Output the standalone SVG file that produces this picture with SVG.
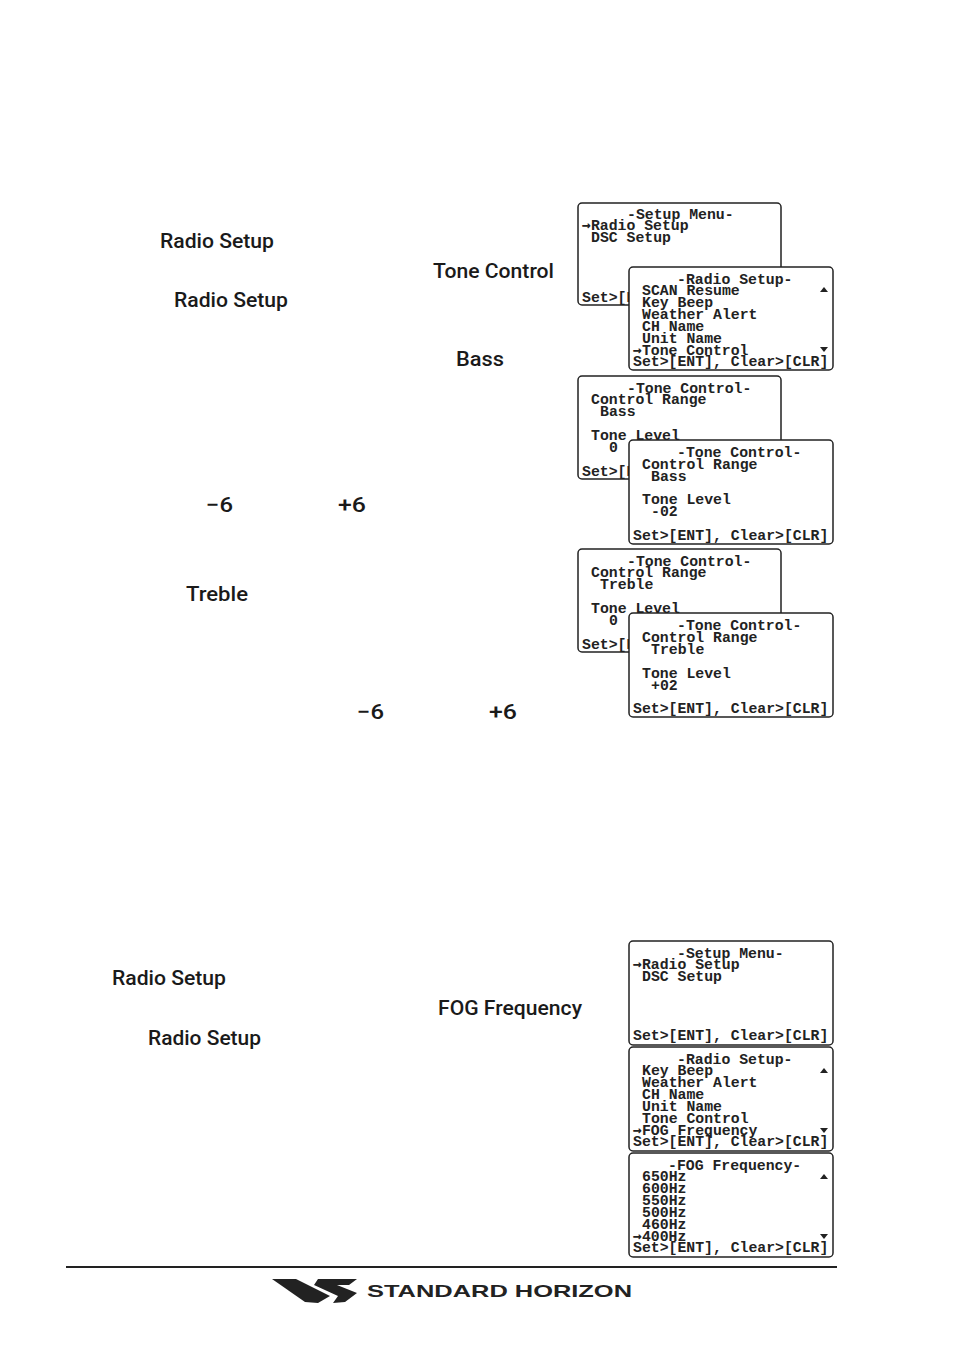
<svg xmlns="http://www.w3.org/2000/svg" width="954" height="1350" viewBox="0 0 954 1350">
<style>
.bg{fill:#fff}
.box{fill:#fff;stroke:#222;stroke-width:1.5}
.m{font-family:"Liberation Mono","DejaVu Sans Mono",monospace;font-size:14.8px;font-weight:700;fill:#222}
.a{font-family:"DejaVu Sans Mono",monospace;font-weight:700}
.b{font-family:Roboto,"Liberation Sans",sans-serif;font-size:21px;font-weight:500;fill:#1a1a1a}
.tri{fill:#222}
</style>
<rect class="bg" width="954" height="1350"/>
<g id="body-text">
<text class="b" x="160" y="248" textLength="114" lengthAdjust="spacingAndGlyphs">Radio Setup</text>
<text class="b" x="433" y="278" textLength="121" lengthAdjust="spacingAndGlyphs">Tone Control</text>
<text class="b" x="174" y="307" textLength="114" lengthAdjust="spacingAndGlyphs">Radio Setup</text>
<text class="b" x="456" y="366" textLength="48" lengthAdjust="spacingAndGlyphs">Bass</text>
<text class="b" x="206" y="512" textLength="27" lengthAdjust="spacingAndGlyphs">−6</text>
<text class="b" x="338" y="512" textLength="28" lengthAdjust="spacingAndGlyphs">+6</text>
<text class="b" x="186" y="601" textLength="62" lengthAdjust="spacingAndGlyphs">Treble</text>
<text class="b" x="357" y="719" textLength="27" lengthAdjust="spacingAndGlyphs">−6</text>
<text class="b" x="489" y="719" textLength="28" lengthAdjust="spacingAndGlyphs">+6</text>
<text class="b" x="112" y="985" textLength="114" lengthAdjust="spacingAndGlyphs">Radio Setup</text>
<text class="b" x="438" y="1015" textLength="144" lengthAdjust="spacingAndGlyphs">FOG Frequency</text>
<text class="b" x="148" y="1045" textLength="113" lengthAdjust="spacingAndGlyphs">Radio Setup</text>
</g>
<g id="screen-setup-1">
<rect class="box" x="578" y="203" width="203" height="102" rx="4"/>
<text class="m" x="627" y="219">-Setup Menu-</text>
<text class="m" x="582" y="230"><tspan class="a">→</tspan>Radio Setup</text>
<text class="m" x="591" y="242">DSC Setup</text>
<text class="m" x="582" y="302">Set&gt;[ENT], Clear&gt;[CLR]</text>
</g>
<g id="screen-radio-1">
<rect class="box" x="629" y="267" width="204" height="103" rx="4"/>
<text class="m" x="677" y="284">-Radio Setup-</text>
<text class="m" x="642" y="295">SCAN Resume</text>
<text class="m" x="642" y="307">Key Beep</text>
<text class="m" x="642" y="319">Weather Alert</text>
<text class="m" x="642" y="331">CH Name</text>
<text class="m" x="642" y="343">Unit Name</text>
<text class="m" x="633" y="355"><tspan class="a">→</tspan>Tone Control</text>
<text class="m" x="633" y="366">Set&gt;[ENT], Clear&gt;[CLR]</text>
<polygon class="tri" points="820,292 828,292 824,287"/>
<polygon class="tri" points="820,347 828,347 824,352"/>
</g>
<g id="screen-tone-bass-1">
<rect class="box" x="578" y="376" width="203" height="103" rx="4"/>
<text class="m" x="627" y="393">-Tone Control-</text>
<text class="m" x="591" y="404">Control Range</text>
<text class="m" x="600" y="416">Bass</text>
<text class="m" x="591" y="440">Tone Level</text>
<text class="m" x="609" y="452">0</text>
<text class="m" x="582" y="476">Set&gt;[ENT], Clear&gt;[CLR]</text>
</g>
<g id="screen-tone-bass-2">
<rect class="box" x="629" y="440" width="204" height="104" rx="4"/>
<text class="m" x="677" y="457">-Tone Control-</text>
<text class="m" x="642" y="469">Control Range</text>
<text class="m" x="651" y="481">Bass</text>
<text class="m" x="642" y="504">Tone Level</text>
<text class="m" x="651" y="516">-02</text>
<text class="m" x="633" y="540">Set&gt;[ENT], Clear&gt;[CLR]</text>
</g>
<g id="screen-tone-treble-1">
<rect class="box" x="578" y="549" width="203" height="103" rx="4"/>
<text class="m" x="627" y="566">-Tone Control-</text>
<text class="m" x="591" y="577">Control Range</text>
<text class="m" x="600" y="589">Treble</text>
<text class="m" x="591" y="613">Tone Level</text>
<text class="m" x="609" y="625">0</text>
<text class="m" x="582" y="649">Set&gt;[ENT], Clear&gt;[CLR]</text>
</g>
<g id="screen-tone-treble-2">
<rect class="box" x="629" y="613" width="204" height="104" rx="4"/>
<text class="m" x="677" y="630">-Tone Control-</text>
<text class="m" x="642" y="642">Control Range</text>
<text class="m" x="651" y="654">Treble</text>
<text class="m" x="642" y="678">Tone Level</text>
<text class="m" x="651" y="690">+02</text>
<text class="m" x="633" y="713">Set&gt;[ENT], Clear&gt;[CLR]</text>
</g>
<g id="screen-setup-2">
<rect class="box" x="629" y="941" width="204" height="104" rx="4"/>
<text class="m" x="677" y="958">-Setup Menu-</text>
<text class="m" x="633" y="969"><tspan class="a">→</tspan>Radio Setup</text>
<text class="m" x="642" y="981">DSC Setup</text>
<text class="m" x="633" y="1040">Set&gt;[ENT], Clear&gt;[CLR]</text>
</g>
<g id="screen-radio-2">
<rect class="box" x="629" y="1047" width="204" height="104" rx="4"/>
<text class="m" x="677" y="1064">-Radio Setup-</text>
<text class="m" x="642" y="1075">Key Beep</text>
<text class="m" x="642" y="1087">Weather Alert</text>
<text class="m" x="642" y="1099">CH Name</text>
<text class="m" x="642" y="1111">Unit Name</text>
<text class="m" x="642" y="1123">Tone Control</text>
<text class="m" x="633" y="1135"><tspan class="a">→</tspan>FOG Frequency</text>
<text class="m" x="633" y="1146">Set&gt;[ENT], Clear&gt;[CLR]</text>
<polygon class="tri" points="820,1073 828,1073 824,1068"/>
<polygon class="tri" points="820,1128 828,1128 824,1133"/>
</g>
<g id="screen-fog">
<rect class="box" x="629" y="1153" width="204" height="104" rx="4"/>
<text class="m" x="668" y="1170">-FOG Frequency-</text>
<text class="m" x="642" y="1181">650Hz</text>
<text class="m" x="642" y="1193">600Hz</text>
<text class="m" x="642" y="1205">550Hz</text>
<text class="m" x="642" y="1217">500Hz</text>
<text class="m" x="642" y="1229">460Hz</text>
<text class="m" x="633" y="1241"><tspan class="a">→</tspan>400Hz</text>
<text class="m" x="633" y="1252">Set&gt;[ENT], Clear&gt;[CLR]</text>
<polygon class="tri" points="820,1179 828,1179 824,1174"/>
<polygon class="tri" points="820,1234 828,1234 824,1239"/>
</g>
<g id="footer">
<rect x="66" y="1266" width="771" height="2" fill="#222"/>
<polygon fill="#222" points="272,1279 296,1279 330,1296 318,1303 305,1302"/>
<polygon fill="#222" points="318,1279 357,1279 349,1285 337,1285 357,1293 345,1302 333,1303 338,1296 314,1285"/>
<text x="367" y="1297" font-family="'Liberation Sans',Arial,sans-serif" font-size="17" font-weight="700" fill="#222" textLength="265" lengthAdjust="spacingAndGlyphs">STANDARD HORIZON</text>
</g>
</svg>
